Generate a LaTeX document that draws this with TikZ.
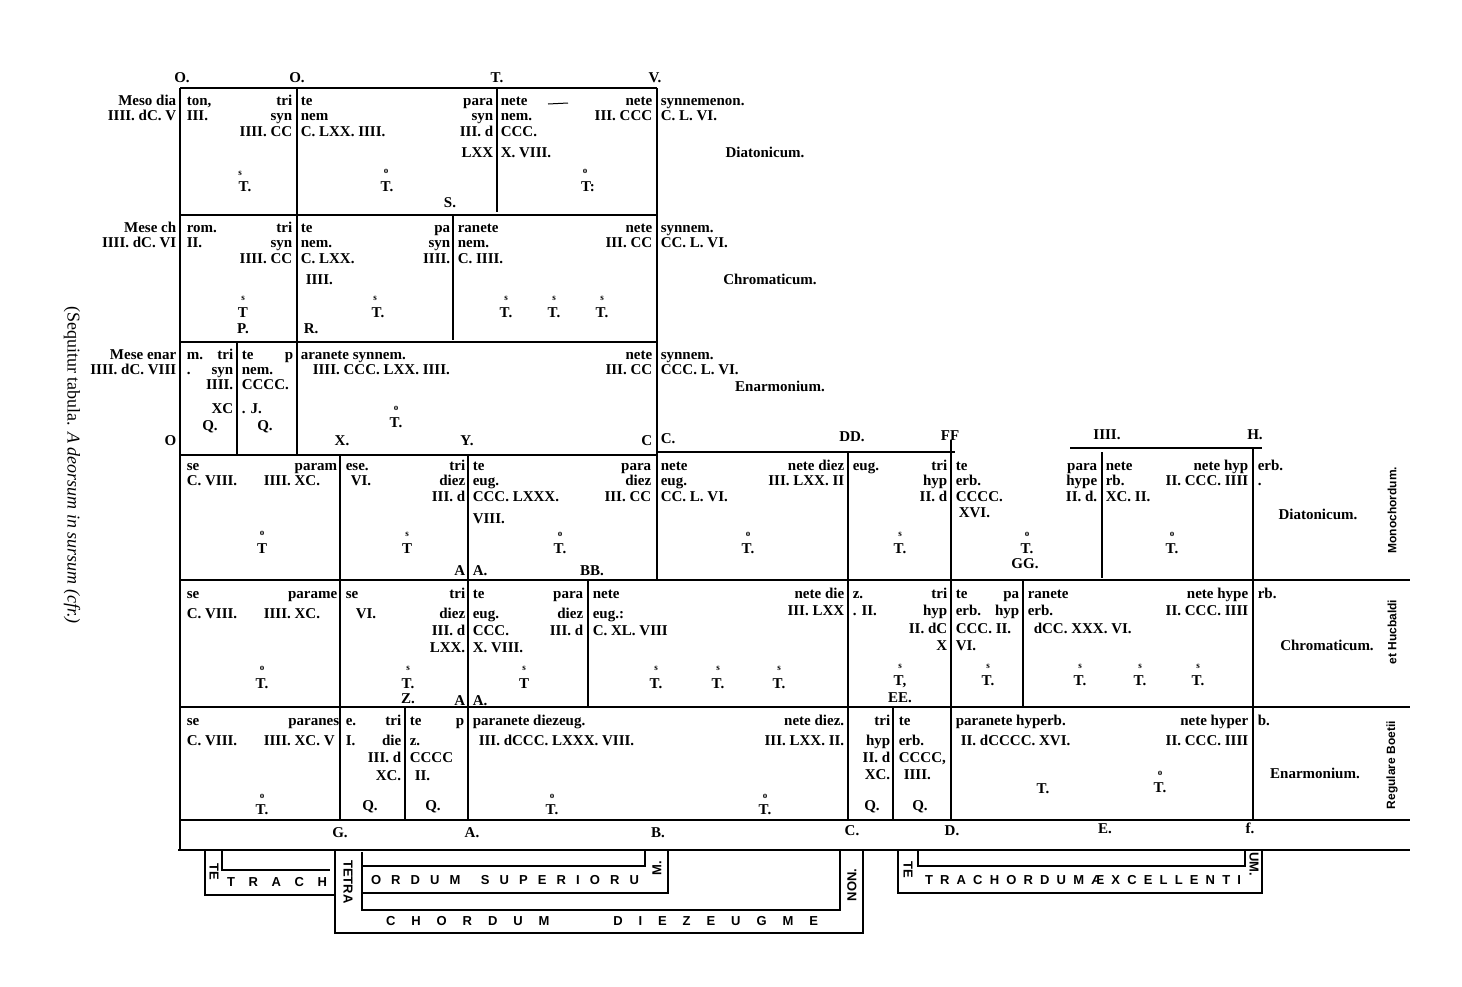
\documentclass[tikz,border=0pt]{standalone}
\usepackage{fontspec}
\setmainfont{Liberation Serif}
\newfontfamily\capsfont{Liberation Sans}
\begin{document}
\begin{tikzpicture}[x=1pt, y=-1pt, line width=1.6pt,
    every node/.style={inner sep=0pt, font=\fontsize{15}{15}\selectfont\bfseries},
    lt/.style={anchor=base west, yshift=-5pt}, rt/.style={anchor=base east, yshift=-5pt},
    ct/.style={anchor=base, yshift=-5pt},
    sm/.style={anchor=base, yshift=-3pt, font=\fontsize{9}{9}\selectfont\bfseries},
    side/.style={font=\capsfont\fontsize{12}{12}\selectfont\bfseries, rotate=90},
    band/.style={font=\capsfont\fontsize{13}{13}\selectfont\bfseries}]
  \useasboundingbox (0,0) rectangle (1462,986);

  % 上部三行
  \draw (180,88) -- (657,88);
  \draw (180,215) -- (657,215);
  \draw (180,342) -- (657,342);
  \draw (180,455) -- (657,455);
  \draw (180,88) -- (180,850);
  \draw (297,88) -- (297,455);
  \draw (497,88) -- (497,212);
  \draw (453,215) -- (453,340);
  \draw (237,342) -- (237,455);
  \draw (657,88) -- (657,580);
  \draw[line width=1pt] (548,104) -- (568,103);

  % 下部三行
  \draw (657,452) -- (955,452);
  \draw (1070,448) -- (1262,448);
  \draw (180,580) -- (1410,580);
  \draw (180,707) -- (1410,707);
  \draw (180,820) -- (1410,820);
  \draw (178,850) -- (1410,850);
  \foreach \px/\ya/\yb in {340/455/820, 468/455/820, 848/452/820, 951/440/820,
      1253/448/820, 1102/452/578, 588/580/707, 1023/580/707, 405/707/820, 893/707/820}
    \draw (\px,\ya) -- (\px,\yb);

  % 底部四音列
  \draw (205,850) -- (205,895) -- (335,895);
  \draw (222,850) -- (222,870) -- (330,870);
  \draw (335,850) -- (335,933) -- (863,933) -- (863,850);
  \draw (362,852) -- (362,910) -- (840,910) -- (840,850);
  \draw (362,866) -- (645,866) -- (645,850);
  \draw (362,893) -- (668,893) -- (668,850);
  \draw (898,850) -- (898,893) -- (1262,893) -- (1262,850);
  \draw (918,850) -- (918,866) -- (1245,866) -- (1245,850);
  \node[band, rotate=-90] (te1) at (214,872) {TE};
  \node[band] (trach) at (277,882) {\makebox[100pt][s]{T R A C H}};
  \node[band, rotate=-90] (tetra) at (348,882) {TETRA};
  \node[band] (super) at (505,880) {\makebox[268pt][s]{O R D U M\ \ S U P E R I O R U}};
  \node[band, rotate=90] (m1) at (657,868) {M.};
  \node[band] (diez) at (602,921) {\makebox[432pt][s]{C H O R D U M\ \ \ \ D I E Z E U G M E}};
  \node[band, rotate=90] (non) at (852,885) {NON.};
  \node[band, rotate=-90] (te2) at (908,870) {TE};
  \node[band] (excel) at (1083,880) {\makebox[316pt][s]{T R A C H O R D U M Æ X C E L L E N T I}};
  \node[band, rotate=-90] (um) at (1254,864) {UM.};

  % 文字
  \foreach \px/\py/\txt [count=\i] in {186/100/{ton,}, 186/115/III., 300/100/te, 300/115/nem,
      300/131/C. LXX. IIII., 500/100/nete, 500/115/nem., 500/131/CCC., 500/152/X. VIII.,
      660/100/synnemenon., 660/115/C. L. VI.,
      186/227/rom., 186/242/II., 300/227/te, 300/242/nem., 300/258/C. LXX., 305/279/IIII.,
      303/328/R., 457/227/ranete, 457/242/nem., 457/258/C. IIII., 660/227/synnem., 660/242/CC. L. VI.,
      186/354/m., 186/369/., 241/354/te, 241/369/nem., 241/384/CCCC., 241/408/. J.,
      300/354/aranete synnem., 312/369/IIII. CCC. LXX. IIII., 660/354/synnem., 660/369/CCC. L. VI.,
      660/438/C.,
      186/465/se, 186/480/C. VIII., 263/480/IIII. XC., 345/465/ese., 350/480/VI., 472/465/te,
      472/480/eug., 472/496/CCC. LXXX., 472/518/VIII., 472/570/A., 660/465/nete, 660/480/eug.,
      660/496/CC. L. VI., 852/465/eug., 955/465/te, 955/480/erb., 955/496/CCCC., 958/512/XVI.,
      1105/465/nete, 1105/480/rb., 1105/496/XC. II., 1257/465/erb., 1257/480/.,
      186/593/se, 186/613/C. VIII., 263/613/IIII. XC., 345/593/se, 355/613/VI., 472/593/te,
      472/613/eug., 472/630/CCC., 472/647/X. VIII., 472/700/A., 592/593/nete, 592/613/eug.:,
      592/630/C. XL. VIII, 852/593/z., 852/610/. II., 955/593/te, 955/610/erb., 955/628/CCC. II.,
      955/645/VI., 1027/593/ranete, 1027/610/erb., 1033/628/dCC. XXX. VI., 1257/593/rb.,
      186/720/se, 186/740/C. VIII., 263/740/IIII. XC. V, 345/720/e., 345/740/I., 409/720/te,
      409/740/z., 409/757/CCCC, 414/775/II., 472/720/paranete diezeug., 478/740/III. dCCC. LXXX. VIII.,
      898/720/te, 898/740/erb., 898/757/{CCCC,}, 903/774/IIII., 955/720/paranete hyperb.,
      960/740/II. dCCCC. XVI., 1257/720/b.}
    \node[lt] (l\i) at (\px,\py) {\txt};

  \foreach \px/\py/\txt [count=\i] in {177/100/Meso dia, 177/115/IIII. dC. V, 293/100/tri,
      293/115/syn, 293/131/IIII. CC, 494/100/para, 494/115/syn, 494/131/III. d, 494/152/LXX,
      653/100/nete, 653/115/III. CCC,
      177/227/Mese ch, 177/242/IIII. dC. VI, 293/227/tri, 293/242/syn, 293/258/IIII. CC,
      451/227/pa, 451/242/syn, 451/258/IIII., 653/227/nete, 653/242/III. CC,
      177/354/Mese enar, 177/369/IIII. dC. VIII, 177/440/O, 234/354/tri, 234/369/syn,
      234/384/IIII., 234/408/XC, 294/354/p, 653/354/nete, 653/369/III. CC, 653/440/C,
      338/465/param, 466/465/tri, 466/480/diez, 466/496/III. d, 466/570/A, 652/465/para,
      652/480/diez, 652/496/III. CC, 845/465/nete diez, 845/480/III. LXX. II, 948/465/tri,
      948/480/hyp, 948/496/II. d, 1098/465/para, 1098/480/hype, 1098/496/II. d.,
      1249/465/nete hyp, 1249/480/II. CCC. IIII,
      338/593/parame, 466/593/tri, 466/613/diez, 466/630/III. d, 466/647/LXX., 466/700/A,
      584/593/para, 584/613/diez, 584/630/III. d, 845/593/nete die, 845/610/III. LXX,
      948/593/tri, 948/610/hyp, 948/628/II. dC, 948/645/X, 1020/593/pa, 1020/610/hyp,
      1249/593/nete hype, 1249/610/II. CCC. IIII,
      340/720/paranes, 402/720/tri, 402/740/die, 402/757/III. d, 402/775/XC., 465/720/p,
      845/720/nete diez., 845/740/III. LXX. II., 891/720/tri, 891/740/hyp, 891/757/II. d,
      891/774/XC., 1249/720/nete hyper, 1249/740/II. CCC. IIII}
    \node[rt] (r\i) at (\px,\py) {\txt};

  \foreach \px/\py/\txt [count=\i] in {182/77/O., 297/77/O., 497/77/T., 655/77/V.,
      245/186/T., 387/186/T., 450/202/S., 588/186/T:,
      243/312/T, 243/328/P., 378/312/T., 506/312/T., 554/312/T., 602/312/T.,
      210/425/Q., 265/425/Q., 396/422/T., 342/440/X., 467/440/Y.,
      852/436/DD., 950/435/FF, 1107/434/IIII., 1255/434/H.,
      262/548/T, 407/548/T, 560/548/T., 592/570/BB., 748/548/T., 900/548/T., 1027/548/T.,
      1025/563/GG., 1172/548/T.,
      262/683/T., 408/683/T., 408/698/Z., 524/683/T, 656/683/T., 718/683/T., 779/683/T.,
      900/680/{T,}, 900/697/EE., 988/680/T., 1080/680/T., 1140/680/T., 1198/680/T.,
      262/809/T., 370/805/Q., 433/805/Q., 552/809/T., 765/809/T., 872/805/Q., 920/805/Q.,
      1043/788/T., 1160/787/T.,
      340/832/G., 472/832/A., 658/832/B., 852/830/C., 952/830/D., 1105/828/E., 1250/828/f.,
      765/152/Diatonicum., 770/279/Chromaticum., 780/386/Enarmonium.,
      1318/514/Diatonicum., 1327/645/Chromaticum., 1315/773/Enarmonium.}
    \node[ct] (c\i) at (\px,\py) {\txt};

  \foreach \px/\py/\txt [count=\i] in {240/172/s, 386/170/o, 585/170/o,
      243/297/s, 375/297/s, 506/297/s, 554/297/s, 602/297/s, 396/407/o,
      262/532/o, 407/533/s, 560/533/o, 748/533/o, 900/533/s, 1027/533/o, 1172/533/o,
      262/667/o, 408/667/s, 524/667/s, 656/667/s, 718/667/s, 779/667/s, 900/665/s,
      988/665/s, 1080/665/s, 1140/665/s, 1198/665/s,
      262/795/o, 552/795/o, 765/795/o, 1160/772/o}
    \node[sm] (s\i) at (\px,\py) {\txt};

  % 侧标
  \node[side] (mono) at (1392,510) {Monochordum.};
  \node[side] (hucb) at (1392,632) {et Hucbaldi};
  \node[side] (boet) at (1392,765) {Regulare Boetii};
  \node[rotate=-90, font=\fontsize{18}{18}\selectfont] (note) at (72,465)
    {(Sequitur tabula. \textit{A deorsum in sursum (cfr.)}};
\end{tikzpicture}
\end{document}
